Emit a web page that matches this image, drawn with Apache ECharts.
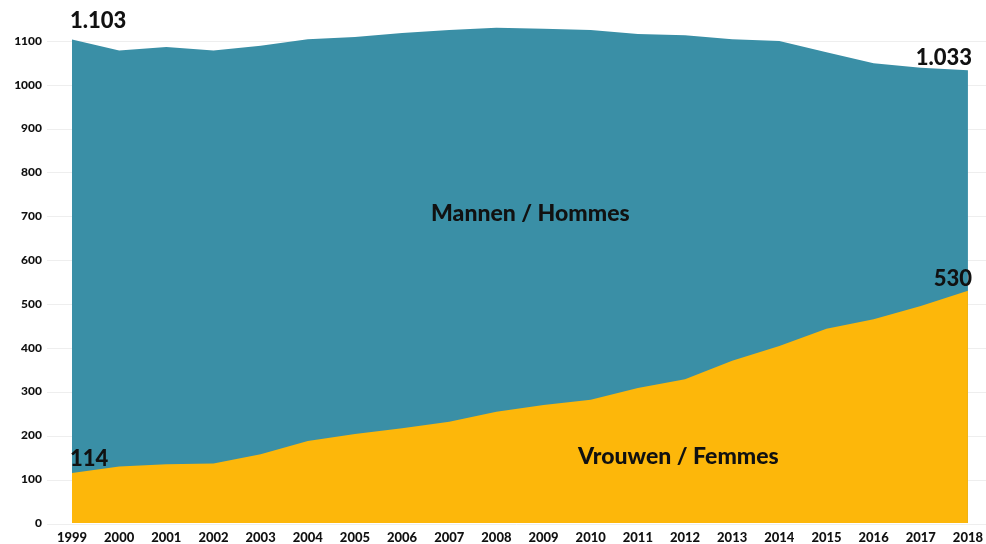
<!DOCTYPE html>
<html>
<head>
<meta charset="utf-8">
<script src="https://cdn.jsdelivr.net/npm/echarts@6/dist/echarts.min.js"></script>
<style>
  html, body { margin: 0; padding: 0; background: #fff; }
  #chart { width: 986px; height: 544px; }
</style>
</head>
<body>
<div id="chart"></div>
<script>
// jaren / années
const years = ['1999', '2000', '2001', '2002', '2003', '2004', '2005', '2006', '2007', '2008',
  '2009', '2010', '2011', '2012', '2013', '2014', '2015', '2016', '2017', '2018'];
// totaal (mannen + vrouwen)
const totalValues = [1103, 1078, 1086, 1078, 1089, 1104, 1109, 1118, 1125, 1130,
  1128, 1125, 1116, 1113, 1104, 1100, 1074, 1049, 1039, 1033];
// vrouwen / femmes
const womenValues = [114, 129, 134, 136, 157, 187, 203, 216, 231, 254,
  269, 281, 308, 328, 370, 404, 443, 465, 495, 530];
const yTicks = [0, 100, 200, 300, 400, 500, 600, 700, 800, 900, 1000, 1100];

const FONT = 'Lato, "DejaVu Sans", sans-serif';
const TEAL = '#3a8fa6';
const YELLOW = '#fdb70a';

const fmt = v => v >= 1000 ? Math.floor(v / 1000) + '.' + String(v % 1000).padStart(3, '0') : String(v);

// only first and last point get a value label
function endLabels(values, firstDist, lastDist) {
  const last = values.length - 1;
  return values.map((v, i) => {
    if (i === 0) {
      return { value: v, label: { show: true, position: 'top', align: 'left', distance: firstDist, offset: [-2, 0] } };
    }
    if (i === last) {
      return { value: v, label: { show: true, position: 'top', align: 'right', distance: lastDist, offset: [4, 0] } };
    }
    return v;
  });
}

const labelStyle = { color: '#111', fontWeight: 900, fontSize: 22, fontFamily: FONT, formatter: p => fmt(p.value) };

const chart = echarts.init(document.getElementById('chart'));
chart.setOption({
  animation: false,
  textStyle: { fontFamily: FONT },
  grid: [
    { left: 72, right: 18, top: 19, bottom: 20 },
    { left: 47, right: 0, top: 41, bottom: 20 }
  ],
  xAxis: [
    {
      type: 'category', gridIndex: 0, data: years, boundaryGap: false,
      axisLine: { show: false }, axisTick: { show: false },
      axisLabel: { color: '#111', fontWeight: 900, fontSize: 13, fontFamily: FONT, margin: 8 }
    },
    { type: 'value', gridIndex: 1, show: false }
  ],
  yAxis: [
    {
      type: 'value', gridIndex: 0, min: 0, max: 1150, interval: 100,
      axisLine: { show: false }, axisTick: { show: false }, splitLine: { show: false },
      axisLabel: {
        color: '#111', fontWeight: 900, fontSize: 12, fontFamily: FONT, margin: 30,
        showMaxLabel: false,
        formatter: v => yTicks.indexOf(v) >= 0 ? String(v) : ''
      }
    },
    {
      type: 'value', gridIndex: 1, min: 0, max: 1100, interval: 100,
      axisLine: { show: false }, axisTick: { show: false }, axisLabel: { show: false },
      splitLine: { show: true, lineStyle: { color: '#eeeeee', width: 1 } }
    }
  ],
  series: [
    {
      name: 'Mannen / Hommes', type: 'line', xAxisIndex: 0, yAxisIndex: 0,
      data: endLabels(totalValues, 7, 1),
      symbol: 'circle', symbolSize: 1, showSymbol: true,
      itemStyle: { color: 'rgba(0,0,0,0)', borderWidth: 0 },
      lineStyle: { width: 0 },
      areaStyle: { color: TEAL, opacity: 1 },
      label: labelStyle,
      z: 2
    },
    {
      name: 'Vrouwen / Femmes', type: 'line', xAxisIndex: 0, yAxisIndex: 0,
      data: endLabels(womenValues, 3, 0),
      symbol: 'circle', symbolSize: 1, showSymbol: true,
      itemStyle: { color: 'rgba(0,0,0,0)', borderWidth: 0 },
      lineStyle: { width: 0 },
      areaStyle: { color: YELLOW, opacity: 1 },
      label: labelStyle,
      z: 3
    }
  ],
  graphic: [
    {
      type: 'text', left: 431, top: 202, z: 10,
      style: { text: 'Mannen / Hommes', fill: '#111', font: '900 23px ' + FONT }
    },
    {
      type: 'text', left: 578, top: 445, z: 10,
      style: { text: 'Vrouwen / Femmes', fill: '#111', font: '900 23px ' + FONT }
    }
  ]
});
</script>
</body>
</html>
